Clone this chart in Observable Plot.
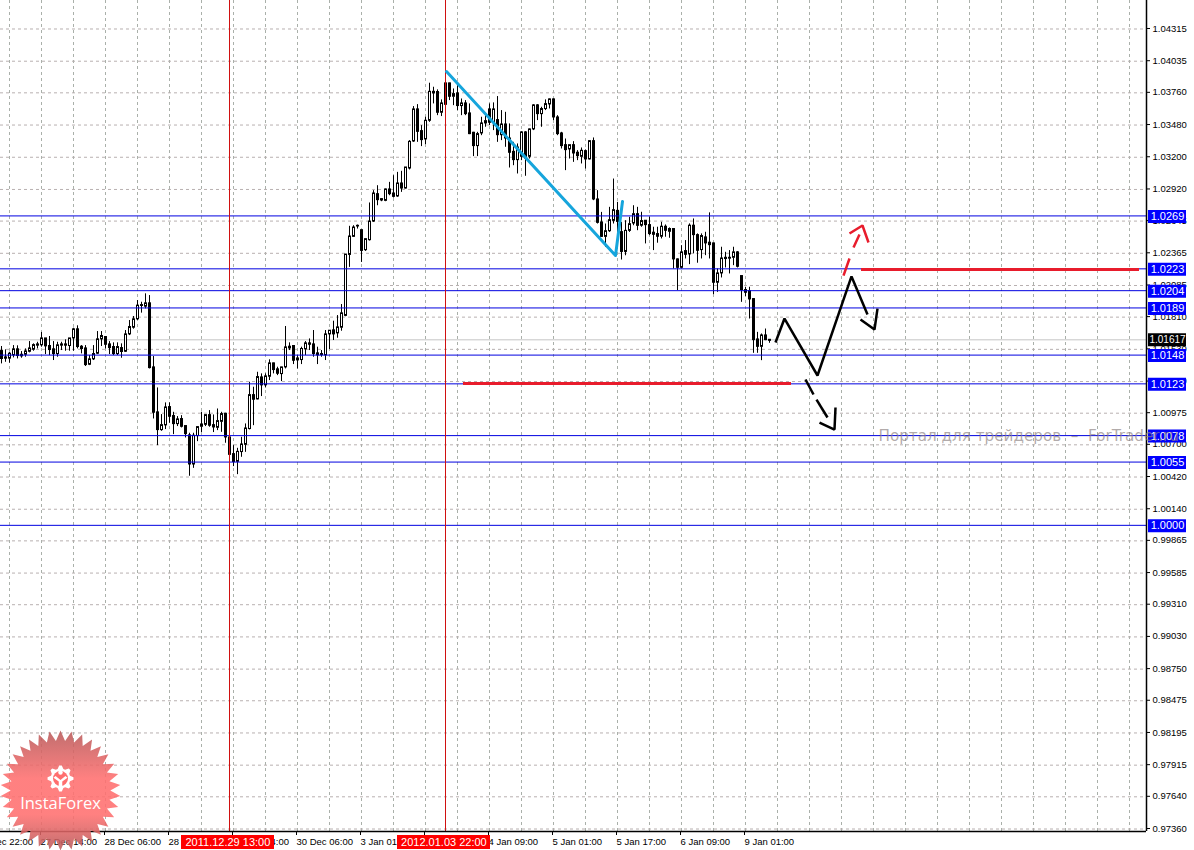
<!DOCTYPE html>
<html><head><meta charset="utf-8">
<script src="https://cdn.jsdelivr.net/npm/d3@7"></script>
<script src="https://cdn.jsdelivr.net/npm/@observablehq/plot@0.6"></script>
<style>html,body{margin:0;padding:0;background:#fff}svg{display:block;max-width:none}</style>
</head><body><div id="c"></div>
<script>
// Candle values, in 1e-5 price units, one per bar (bar 0 = 26 Dec 16:00, hourly)
const opens=[101515,101460,101449,101478,101530,101483,101483,101509,101527,101562,101565,101625,101559,101530,101489,101562,101573,101559,101625,101704,101553,101538,101396,101443,101492,101617,101637,101573,101550,101489,101541,101509,101660,101718,101791,101907,101901,101930,101373,100982,100828,100869,101028,100950,100880,100924,100863,100782,100529,100776,100857,100874,100958,100871,100848,100900,100970,100764,100619,100552,100637,100700,100837,101132,101095,101286,101217,101292,101408,101356,101315,101373,101538,101559,101434,101437,101530,101582,101573,101495,101489,101478,101660,101695,101669,101718,101821,102351,102508,102598,102566,102392,102479,102641,102879,102836,102821,102920,102885,102859,102972,102928,103102,103337,103616,103427,103355,103517,103755,103767,103587,103842,103842,103726,103755,103645,103668,103581,103413,103297,103407,103494,103616,103500,103523,103392,103485,103363,103247,103175,103204,103416,103204,103442,103651,103575,103619,103659,103703,103546,103407,103305,103268,103305,103239,103204,103253,103181,103340,102833,102633,102508,102557,102647,102734,102549,102377,102560,102624,102705,102605,102648,102610,102544,102532,102509,102596,102552,102576,102312,102239,102384,102355,102605,102523,102393,102503,102457,102451,102109,102190,102326,102318,102326,102373,102167,102045,102036,101967,101616,101552,101651,101613];
const highs=[101559,101530,101509,101567,101565,101515,101538,101602,101582,101596,101681,101625,101646,101602,101596,101596,101617,101625,101718,101739,101567,101567,101480,101567,101689,101689,101646,101602,101591,101591,101582,101698,101785,101820,101959,101944,102017,102002,101472,101199,100967,101069,101069,100987,100950,100958,100863,100805,100805,100863,100987,100964,101002,100964,101016,100987,100979,100764,100697,100674,100770,100886,101248,101205,101335,101321,101321,101443,101414,101379,101379,101733,101591,101559,101480,101553,101602,101625,101698,101553,101524,101698,101698,101779,101828,101924,102354,102604,102609,102615,102566,102493,102807,102914,102957,102841,102928,102986,103044,103073,103082,103111,103349,103645,103662,103479,103552,103848,103813,103790,103703,103848,103848,103798,103827,103711,103697,103668,103421,103421,103552,103566,103668,103677,103732,103610,103595,103494,103334,103320,103427,103427,103450,103662,103662,103639,103703,103711,103711,103566,103421,103363,103305,103340,103262,103285,103268,103349,103372,102914,102725,102624,102769,103015,102812,102638,102653,102682,102783,102769,102726,102654,102683,102596,102596,102639,102616,102590,102576,102320,102436,102480,102625,102668,102538,102538,102552,102721,102457,102233,102422,102378,102393,102422,102384,102167,102074,102074,101972,101682,101668,101711,101616];
const lows=[101408,101422,101414,101460,101451,101457,101466,101504,101518,101538,101553,101489,101480,101437,101466,101524,101518,101518,101518,101538,101495,101385,101393,101437,101489,101559,101538,101489,101480,101480,101457,101507,101654,101710,101785,101849,101886,101364,100929,100697,100822,100837,100892,100793,100863,100851,100764,100431,100500,100732,100811,100863,100857,100811,100828,100813,100718,100538,100515,100445,100596,100639,100834,100871,101095,101124,101199,101263,101321,101306,101254,101364,101524,101402,101364,101402,101480,101524,101466,101402,101466,101437,101533,101611,101631,101692,101818,102247,102508,102580,102290,102386,102476,102638,102783,102818,102818,102870,102850,102856,102899,102928,103094,103334,103334,103297,103314,103508,103668,103566,103558,103653,103697,103653,103610,103566,103566,103401,103210,103210,103392,103465,103479,103436,103334,103349,103291,103111,103131,103059,103175,103039,103189,103436,103523,103465,103610,103624,103523,103392,103276,103088,103189,103160,103175,103146,103102,103181,102827,102624,102508,102421,102551,102624,102479,102311,102348,102551,102609,102566,102596,102451,102523,102393,102457,102494,102509,102500,102233,102045,102233,102320,102271,102364,102283,102320,102349,102320,102010,102030,102155,102242,102190,102262,102242,101943,101993,101798,101500,101500,101436,101610,101587];
const closes=[101446,101449,101492,101530,101472,101469,101512,101538,101567,101573,101625,101556,101524,101489,101565,101573,101562,101625,101704,101550,101533,101393,101443,101489,101617,101646,101570,101541,101489,101550,101507,101660,101724,101791,101910,101915,101930,101367,100979,100828,100871,101025,100944,100880,100921,100857,100793,100529,100779,100854,100877,100958,100866,100851,100906,100967,100764,100613,100550,100639,100703,100842,101132,101092,101289,101217,101295,101408,101350,101318,101373,101547,101553,101431,101451,101533,101582,101570,101489,101478,101480,101660,101692,101660,101721,101843,102354,102511,102589,102604,102386,102488,102641,102885,102827,102824,102920,102879,102856,102972,102928,103111,103334,103616,103421,103349,103517,103769,103769,103587,103668,103656,103726,103749,103645,103668,103575,103401,103297,103401,103494,103514,103500,103616,103392,103485,103363,103239,103175,103285,103416,103189,103442,103651,103575,103619,103662,103703,103546,103401,103297,103262,103305,103233,103210,103256,103181,103340,102833,102630,102508,102557,102653,102740,102638,102377,102560,102618,102705,102604,102645,102610,102532,102526,102509,102596,102561,102576,102312,102239,102373,102352,102605,102523,102387,102515,102451,102436,102109,102190,102320,102315,102326,102373,102248,102045,102022,101964,101610,101552,101651,101610,101604];

// Horizontal support / resistance levels and the last price
const levels=[1.0269,1.0223,1.0204,1.0189,1.0148,1.0123,1.0078,1.0055,1.0000];
const lastPrice=[1.01617];

// Axis values
const priceTicks=[1.04315,1.04035,1.03760,1.03480,1.03200,1.02920,1.02645,1.02365,1.02085,1.01810,1.01530,1.01250,1.00975,1.00700,1.00420,1.00140,0.99865,0.99585,0.99310,0.99030,0.98750,0.98475,0.98195,0.97915,0.97640,0.97360];
const timeBars=[-6,10,26,42,58,74,90,106,122,138,154,170,186];
const timeLabels=["26 Dec 22:00","27 Dec 14:00","28 Dec 06:00","28 Dec 22:00","29 Dec 14:00","30 Dec 06:00","3 Jan 01:00","3 Jan 17:00","4 Jan 09:00","5 Jan 01:00","5 Jan 17:00","6 Jan 09:00","9 Jan 01:00"];
const gridBars=d3.range(2,286,8);

// Crosshairs
const crossBars=[57,111];
const crossLabels=["2011.12.29 13:00","2012.01.03 22:00"];

// Hand-drawn forecast strokes: [bar, price in 1e-5]
const cyanStroke=[[111.25,103950],[153.5,102350],[155.25,102820]];
const blackStrokes=[[[193.5,101594],[195.75,101802],[204,101307],[212.5,102168],[216.5,101837]],[[214.75,101794],[218.25,101707],[219,101889]],[[201,101272],[203,101142]],[[203.75,101098],[206.5,100942]],[[204.5,100898],[208.25,100837],[208.5,101029]]];
const redStrokes=[[[210.5,102176],[212,102324]],[[213,102420],[214.5,102533]],[[212,102541],[215.25,102611],[216.75,102463]]];
const redBars=[[115.5,197.5,101237],[215,284.5,102228]];

const candles=opens.map((o,i)=>({i,o:o/1e5,h:highs[i]/1e5,l:lows[i]/1e5,c:closes[i]/1e5}));
const toPts=(arr)=>arr.flatMap((s,k)=>s.map(([x,y])=>({x,y:y/1e5,k})));
const timeLabel=new Map(timeBars.map((b,i)=>[b,timeLabels[i]]));

const star={draw(ctx,size){const R=Math.sqrt(size/Math.PI),n=34,r=R*0.83;
  for(let j=0;j<2*n;j++){const a=j*Math.PI/n,q=j%2?r:R,x=q*Math.sin(a),y=-q*Math.cos(a);j?ctx.lineTo(x,y):ctx.moveTo(x,y);}ctx.closePath();}};
const gear={draw(ctx,size){const R=Math.sqrt(size/Math.PI),n=8;
  for(let j=0;j<4*n;j++){const a=(j-0.5)*Math.PI/(2*n),q=(j%4<2)?R:R*0.76,x=q*Math.sin(a),y=-q*Math.cos(a);j?ctx.lineTo(x,y):ctx.moveTo(x,y);}ctx.closePath();}};
const figure={draw(ctx,size){const R=Math.sqrt(size/Math.PI);
  ctx.moveTo(-R,-R*0.55);ctx.lineTo(-R*0.25,0);ctx.lineTo(-R*0.25,R);ctx.lineTo(R*0.25,R);ctx.lineTo(R*0.25,0);ctx.lineTo(R,-R*0.55);ctx.lineTo(R*0.7,-R*0.8);ctx.lineTo(0,-R*0.2);ctx.lineTo(-R*0.7,-R*0.8);ctx.closePath();}};

const font="'Liberation Sans',Arial,sans-serif";
const defs=()=>{const d=d3.create("svg:defs");const g=d.append("linearGradient").attr("id","logoFill").attr("x1",0).attr("x2",0).attr("y1",0).attr("y2",1);
  g.append("stop").attr("offset","0").attr("stop-color","#b85a5a");g.append("stop").attr("offset","0.4").attr("stop-color","#ff6f6f");g.append("stop").attr("offset","0.7").attr("stop-color","#ff6f6f");g.append("stop").attr("offset","1").attr("stop-color","#b85a5a");return d.node();};

const chart=Plot.plot({
  width:1194,height:850,marginLeft:0,marginTop:0,marginRight:48,marginBottom:19,
  style:{fontFamily:font,background:"#fff",overflow:"hidden"},
  x:{type:"linear",domain:[-0.25,286.25],range:[0,1146]},
  y:{type:"linear",domain:[0.973427,1.045671],range:[831,0]},
  marks:[
    defs,
    Plot.gridX(gridBars,{stroke:"#aab0aa",strokeOpacity:1,strokeDasharray:"3,3"}),
    Plot.gridY(priceTicks,{stroke:"#b8b0b0",strokeOpacity:1,strokeDasharray:"3,3",dy:-0.5}),
    Plot.ruleY(lastPrice,{stroke:"#c4c4c4",strokeWidth:1}),
    Plot.ruleX(candles,{x:"i",y1:"l",y2:"h",stroke:"#000",strokeWidth:1}),
    Plot.rect(candles,{x1:d=>d.i-0.25,x2:d=>d.i+0.25,y1:d=>d.o,y2:d=>d.c,fill:d=>d.c>=d.o?"#fff":"#000",stroke:"#000",strokeWidth:1,dx:0.5,dy:-0.5}),
    Plot.ruleY(levels,{stroke:"#0000e0",strokeWidth:1,dy:-0.5}),
    Plot.ruleX(crossBars,{stroke:"#d01010",strokeWidth:1}),
    Plot.line(cyanStroke,{x:d=>d[0],y:d=>d[1]/1e5,stroke:"#16a5dc",strokeWidth:3,curve:"linear"}),
    Plot.line(toPts(blackStrokes),{x:"x",y:"y",z:"k",stroke:"#000",strokeWidth:2.5,strokeLinecap:"butt",strokeLinejoin:"miter"}),
    Plot.line(toPts(redStrokes),{x:"x",y:"y",z:"k",stroke:"#e81c2c",strokeWidth:2.5,strokeLinecap:"butt",strokeLinejoin:"miter"}),
    ...redBars.map(([a,b,p])=>Plot.ruleY([p/1e5],{x1:()=>a,x2:()=>b,stroke:"#e81c2c",strokeWidth:3})),
    Plot.ruleX([286.25],{stroke:"#000",strokeWidth:1.5}),
    Plot.ruleY([0.973427],{stroke:"#000",strokeWidth:1.5}),
    Plot.axisY(priceTicks,{anchor:"right",tickSize:3,tickPadding:3,tickFormat:d=>d.toFixed(5),fontSize:9.5,stroke:"#000",fill:"#000",dy:-1}),
    Plot.axisX(timeBars,{anchor:"bottom",tickSize:4,tickPadding:3,textAnchor:"start",tickFormat:d=>timeLabel.get(d),fontSize:9.5,stroke:"#000",fill:"#000",dx:-1}),
    Plot.ruleY(levels,{x1:()=>286.75,x2:()=>296.25,stroke:"#0000ff",strokeWidth:13}),
    Plot.ruleY(lastPrice,{x1:()=>286.75,x2:()=>296.25,stroke:"#000",strokeWidth:13}),
    Plot.text(levels,{x:()=>291.5,y:d=>d,text:d=>d.toFixed(4),fill:"#fff",fontSize:11}),
    Plot.text(lastPrice,{x:()=>291.5,y:d=>d,text:d=>d.toFixed(5),fill:"#fff",fontSize:10}),
    Plot.text(["Портал для трейдеров\u00a0\u00a0–\u00a0\u00a0ForTrader.ru"],{x:()=>219.25,y:()=>1.00777,text:d=>d,textAnchor:"start",fill:"#8f8585",fillOpacity:0.7,fontSize:15.2,fontFamily:"'DejaVu Sans'"}),
    Plot.ruleY(crossBars,{y:()=>0.973427,x1:d=>d-12,x2:d=>d+11.25,dy:10.5,stroke:"#ff0000",strokeWidth:14}),
    Plot.text(crossLabels,{x:(d,i)=>crossBars[i]-0.4,frameAnchor:"bottom",lineAnchor:"middle",dy:11,text:d=>d,fill:"#fff",fontSize:11}),
    // InstaForex badge
    Plot.dot([0],{frameAnchor:"bottom-left",dx:60,dy:-41,r:60,symbol:star,fill:"url(#logoFill)",fillOpacity:0.88,stroke:"none"}),
    Plot.dot([0],{frameAnchor:"bottom-left",dx:60,dy:-53,r:13,symbol:gear,fill:"#fff",stroke:"none"}),
    Plot.dot([0],{frameAnchor:"bottom-left",dx:60,dy:-53,r:7.5,fill:"#ff6f6f",stroke:"none"}),
    Plot.dot([0],{frameAnchor:"bottom-left",dx:60,dy:-50,r:7,symbol:figure,fill:"#fff",stroke:"none"}),
    Plot.dot([0],{frameAnchor:"bottom-left",dx:60,dy:-59,r:2.2,fill:"#fff",stroke:"none"}),
    Plot.text(["InstaForex"],{frameAnchor:"bottom-left",textAnchor:"middle",lineAnchor:"middle",dx:60,dy:-28,text:d=>d,fill:"#fff",fontSize:16.5,fontFamily:"'Open Sans'"})
  ]
});
document.getElementById("c").appendChild(chart);
</script></body></html>
